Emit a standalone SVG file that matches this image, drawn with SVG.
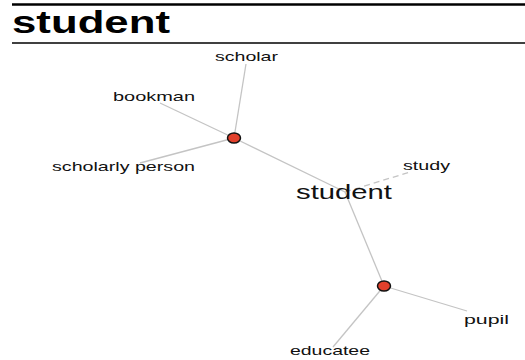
<svg xmlns="http://www.w3.org/2000/svg" width="525" height="360" viewBox="0 0 525 360">
  <style>
    .title { font-family: "Liberation Sans", Arial, sans-serif; font-weight: bold; font-size: 31px; fill: #000; }
    .label { font-family: "Liberation Sans", Arial, sans-serif; font-size: 13px; fill: #111; }
    .hub { font-family: "Liberation Sans", Arial, sans-serif; font-size: 20px; fill: #111; }
    .edge { stroke: #c4c4c4; stroke-width: 1.3; fill: none; }
    .dashed { stroke-dasharray: 6 4; }
    .syn { fill: #e2402c; stroke: #111; stroke-width: 1.5; }
    .rule { stroke: #000; }
  </style>
  <rect width="525" height="360" fill="#fff"/>

  <!-- header -->
  <g id="header">
    <line class="rule" x1="12" y1="4.5" x2="525" y2="4.5" stroke-width="2.5"/>
    <text class="title" x="12" y="33" textLength="158" lengthAdjust="spacingAndGlyphs">student</text>
    <line class="rule" x1="12" y1="43" x2="525" y2="43" stroke-width="1.5"/>
  </g>

  <!-- connectors -->
  <g id="edges">
    <line class="edge" x1="246" y1="64" x2="234" y2="138"/>
    <line class="edge" x1="160" y1="103" x2="234" y2="138"/>
    <line class="edge" x1="140" y1="163" x2="234" y2="138"/>
    <line class="edge" x1="234" y1="138" x2="345" y2="192"/>
    <line class="edge dashed" x1="345" y1="192" x2="410" y2="172"/>
    <line class="edge" x1="345" y1="192" x2="384" y2="286"/>
    <line class="edge" x1="384" y1="286" x2="467" y2="311"/>
    <line class="edge" x1="384" y1="286" x2="333" y2="347"/>
  </g>

  <!-- synset nodes -->
  <g id="synset1">
    <ellipse class="syn" cx="234" cy="138" rx="6.5" ry="5"/>
  </g>
  <g id="synset2">
    <ellipse class="syn" cx="384" cy="286" rx="6.5" ry="5"/>
  </g>

  <!-- word nodes -->
  <g id="student">
    <text class="hub" x="296" y="199" textLength="96" lengthAdjust="spacingAndGlyphs">student</text>
  </g>
  <g id="scholar">
    <text class="label" x="215" y="61" textLength="63" lengthAdjust="spacingAndGlyphs">scholar</text>
  </g>
  <g id="bookman">
    <text class="label" x="113" y="101" textLength="82" lengthAdjust="spacingAndGlyphs">bookman</text>
  </g>
  <g id="scholarly-person">
    <text class="label" x="52" y="171" textLength="143" lengthAdjust="spacingAndGlyphs">scholarly person</text>
  </g>
  <g id="study">
    <text class="label" x="403" y="170" textLength="47" lengthAdjust="spacingAndGlyphs">study</text>
  </g>
  <g id="pupil">
    <text class="label" x="464" y="324" textLength="45" lengthAdjust="spacingAndGlyphs">pupil</text>
  </g>
  <g id="educatee">
    <text class="label" x="290" y="355" textLength="80" lengthAdjust="spacingAndGlyphs">educatee</text>
  </g>
</svg>
